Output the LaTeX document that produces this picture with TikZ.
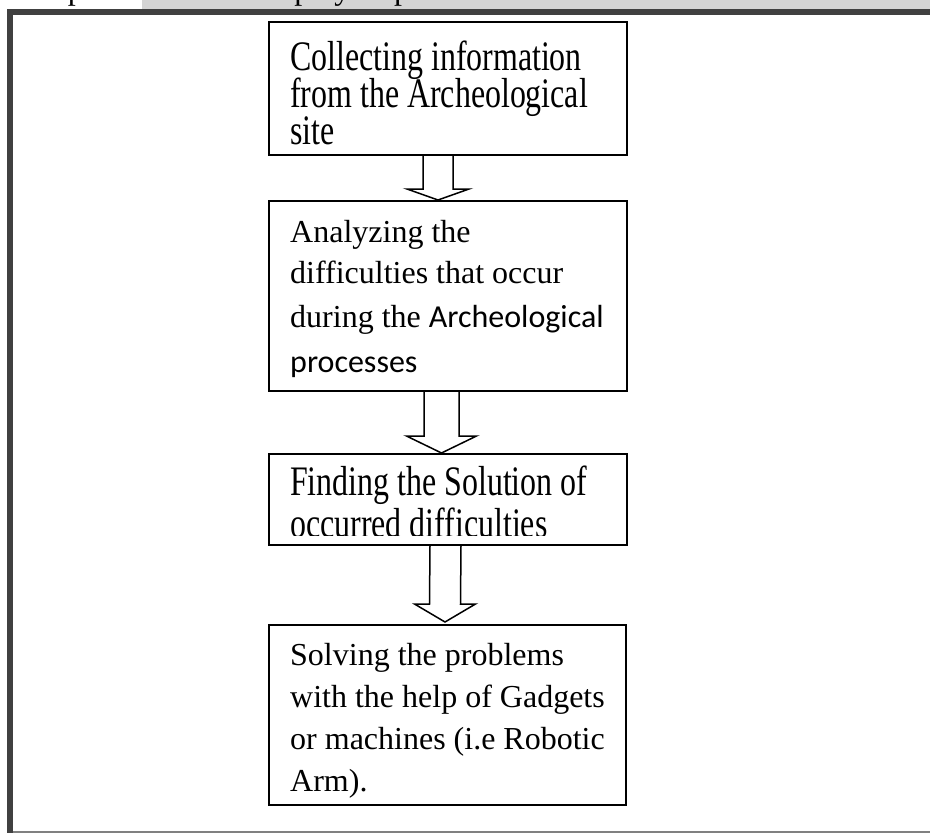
\documentclass[tikz,border=0pt]{standalone}
\usepackage{fontspec}
\setmainfont{Liberation Serif}
\newfontfamily\calibrifont{Carlito}
\newfontfamily\tallfont[FakeStretch=0.76]{Liberation Serif}
\usetikzlibrary{calc}
\definecolor{framegray}{RGB}{64,64,64}
\definecolor{bandgray}{RGB}{212,212,212}
\definecolor{linegray}{RGB}{128,128,128}
\newcommand{\boxfont}[1]{\fontsize{32pt}{#1}\selectfont}
\newcommand{\tallboxfont}[1]{\tallfont\fontsize{42pt}{#1}\selectfont\lineskiplimit=-100pt}
%hollow block arrow: top, tip, shaft half width, head half width, head length
\newcommand{\hollowarrow}[5]{%
\draw[blockarrow] ($(#1)+(-#3,0)$) -- ($(#2)+(-#3,-#5)$) -- ($(#2)+(-#4,-#5)$) -- (#2)
  -- ($(#2)+(#4,-#5)$) -- ($(#2)+(#3,-#5)$) -- ($(#1)+(#3,0)$);}

\begin{document}
\begin{tikzpicture}[x=1pt,y=-1pt,
  stepbox/.style={draw,line width=2pt,minimum width=358pt,inner sep=0pt},
  steptext/.style={anchor=base west,align=left,inner sep=0pt},
  blockarrow/.style={draw,line width=1.5pt,line join=miter}]
\useasboundingbox (0,0) rectangle (930,833);
%cut off line of the page above the frame
\fill[bandgray] (142,0) rectangle (930,9);
\node[steptext,font=\boxfont{37pt}] (caption) at (17,-0.5) {our process with a step by step flowchart};
%frame
\draw[framegray,line width=6pt] (10,840) -- (10,12) -- (940,12);
\draw[linegray,line width=2pt] (13,832) -- (940,832);
%draw boxes
\node[stepbox,minimum height=133pt] (b1) at (448,88.5) {};
\node[stepbox,minimum height=190pt] (b2) at (448,296) {};
\node[stepbox,minimum height=91pt] (b3) at (448,499.5) {};
\node[stepbox,minimum width=357pt,minimum height=180pt] (b4) at (447.5,715) {};
%texts of the boxes (placed at the baseline of their last line)
\node[steptext,font=\tallboxfont{37pt}] (t1) at (290,144) {Collecting information\\from the Archeological\\site};
\node[steptext,font=\boxfont{41pt}] (t2) at (290,372) {Analyzing the\\difficulties that occur\\[3pt]during the {\calibrifont Archeological}\\[4pt]{\calibrifont processes}};
\begin{scope}
\clip (269,454) rectangle (627,535.5);
\node[steptext,font=\tallboxfont{42pt}] (t3) at (290,537) {Finding the Solution of\\occurred difficulties};
\end{scope}
\node[steptext,font=\boxfont{42pt}] (t4) at (290,791) {Solving the problems\\with the help of Gadgets\\or machines (i.e Robotic\\Arm).};
%draw arrows
\coordinate (a1s) at ([xshift=-10pt]b1.south);
\coordinate (a1e) at ([xshift=-10pt]b2.north);
\coordinate (a2s) at ([xshift=-6.5pt]b2.south);
\coordinate (a2e) at ([xshift=-6.5pt]b3.north);
\coordinate (a3s) at ([xshift=-2.5pt]b3.south);
\coordinate (a3e) at ([xshift=-2.5pt,yshift=2pt]b4.north);
\hollowarrow{a1s}{a1e}{15}{31}{11}
\hollowarrow{a2s}{a2e}{17.5}{35}{17}
\hollowarrow{a3s}{a3e}{15.5}{30.5}{18}
\end{tikzpicture}
\end{document}
